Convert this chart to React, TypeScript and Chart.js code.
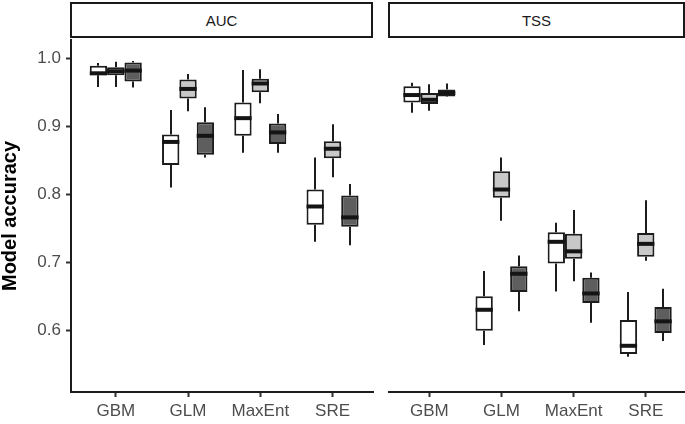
import React, { useEffect, useRef } from "react";
import { Chart, registerables } from "chart.js";

Chart.register(...registerables);

const categories = ["GBM", "GLM", "MaxEnt", "SRE"];
const yTicks = [0.6, 0.7, 0.8, 0.9, 1.0];
const panelTitles = ["AUC", "TSS"];
const seriesLabels = ["Group 1", "Group 2", "Group 3"];
const seriesColors = ["#ffffff", "#c8c8c8", "#5e5e5e"];

// Each entry: [min, q1, median, q3, max] for GBM, GLM, MaxEnt, SRE
const aucWhite = [
  [0.958, 0.975, 0.978, 0.989, 0.993],
  [0.81, 0.843, 0.877, 0.888, 0.924],
  [0.861, 0.886, 0.912, 0.935, 0.983],
  [0.73, 0.755, 0.782, 0.807, 0.854],
];
const aucGrey = [
  [0.958, 0.975, 0.981, 0.987, 0.995],
  [0.922, 0.941, 0.955, 0.969, 0.977],
  [0.934, 0.95, 0.963, 0.97, 0.984],
  [0.825, 0.853, 0.867, 0.878, 0.903],
];
const aucDark = [
  [0.957, 0.966, 0.982, 0.994, 0.996],
  [0.854, 0.858, 0.886, 0.906, 0.928],
  [0.861, 0.874, 0.891, 0.904, 0.918],
  [0.725, 0.752, 0.766, 0.798, 0.815],
];
const tssWhite = [
  [0.92, 0.935, 0.946, 0.959, 0.964],
  [0.578, 0.599, 0.63, 0.65, 0.687],
  [0.657, 0.698, 0.73, 0.744, 0.758],
  [0.561, 0.565, 0.577, 0.615, 0.656],
];
const tssGrey = [
  [0.923, 0.933, 0.939, 0.949, 0.962],
  [0.761, 0.795, 0.807, 0.834, 0.854],
  [0.672, 0.705, 0.716, 0.742, 0.777],
  [0.702, 0.708, 0.727, 0.743, 0.791],
];
const tssDark = [
  [0.943, 0.944, 0.949, 0.954, 0.963],
  [0.628, 0.656, 0.683, 0.694, 0.71],
  [0.611, 0.64, 0.654, 0.677, 0.685],
  [0.584, 0.596, 0.613, 0.634, 0.661],
];

const Y_MIN = 0.509;
const Y_MAX = 1.027;
const FONT = "'Liberation Sans', Arial, Helvetica, sans-serif";
const INK = "#1c1c1c";

const boxPlugin = {
  id: "boxWhiskers",
  beforeDatasetsDraw(chart: any) {
    const ctx = chart.ctx;
    const y = chart.scales.y;
    ctx.save();
    ctx.strokeStyle = INK;
    ctx.lineWidth = 2;
    chart.data.datasets.forEach((ds: any, d: number) => {
      const meta = chart.getDatasetMeta(d);
      meta.data.forEach((bar: any, i: number) => {
        const s = ds.stats[i];
        const x = Math.round(bar.x);
        ctx.beginPath();
        ctx.moveTo(x, y.getPixelForValue(s[0]));
        ctx.lineTo(x, y.getPixelForValue(s[1]));
        ctx.moveTo(x, y.getPixelForValue(s[3]));
        ctx.lineTo(x, y.getPixelForValue(s[4]));
        ctx.stroke();
      });
    });
    ctx.restore();
  },
  afterDatasetsDraw(chart: any) {
    const ctx = chart.ctx;
    const y = chart.scales.y;
    ctx.save();
    ctx.strokeStyle = "#141414";
    ctx.lineWidth = 4;
    chart.data.datasets.forEach((ds: any, d: number) => {
      const meta = chart.getDatasetMeta(d);
      meta.data.forEach((bar: any, i: number) => {
        const s = ds.stats[i];
        const py = y.getPixelForValue(s[2]);
        ctx.beginPath();
        ctx.moveTo(bar.x - bar.width / 2, py);
        ctx.lineTo(bar.x + bar.width / 2, py);
        ctx.stroke();
      });
    });
    ctx.restore();
  },
};

function makeDatasets(series: number[][][]) {
  return series.map((stats, k) => ({
    label: seriesLabels[k],
    data: stats.map((s, i) => ({ x: i, y: [s[1], s[3]] })),
    stats,
    backgroundColor: seriesColors[k],
    borderColor: INK,
    borderWidth: 2,
    borderSkipped: false,
    categoryPercentage: 0.72,
    barPercentage: 1,
  }));
}

function Panel(props: {
  series: number[][][];
  left: number;
  width: number;
  xMin: number;
  xMax: number;
  showY: boolean;
}) {
  const ref = useRef<HTMLCanvasElement>(null);
  useEffect(() => {
    if (!ref.current) return;
    const chart = new Chart(ref.current, {
      type: "bar",
      data: { datasets: makeDatasets(props.series) as any },
      plugins: [boxPlugin],
      options: {
        responsive: false,
        animation: false,
        events: [],
        layout: { padding: { top: 2, right: 1, left: 0, bottom: 0 } },
        plugins: { legend: { display: false }, tooltip: { enabled: false } },
        scales: {
          x: {
            type: "linear",
            min: props.xMin,
            max: props.xMax,
            offset: false,
            afterBuildTicks: (s: any) => {
              s.ticks = categories.map((_, i) => ({ value: i }));
            },
            afterFit: (s: any) => {
              s.height = 32;
              s.paddingLeft = 0;
              s.paddingRight = 0;
            },
            ticks: {
              callback: (v: any) => categories[v],
              font: { family: FONT, size: 17 },
              color: "#4d4d4d",
              padding: 4,
              maxRotation: 0,
              autoSkip: false,
            },
            grid: {
              display: true,
              offset: false,
              drawOnChartArea: false,
              drawTicks: true,
              tickLength: 5,
              tickWidth: 2,
              color: "#333333",
            },
            border: { display: true, color: INK, width: 2 },
          },
          y: {
            display: props.showY,
            min: Y_MIN,
            max: Y_MAX,
            beginAtZero: false,
            afterBuildTicks: (s: any) => {
              s.ticks = yTicks.map((v) => ({ value: v }));
            },
            afterFit: (s: any) => {
              s.width = props.showY ? 71 : 0;
              s.paddingTop = 0;
              s.paddingBottom = 0;
            },
            ticks: {
              callback: (v: any) => Number(v).toFixed(1),
              font: { family: FONT, size: 17 },
              color: "#4d4d4d",
              padding: 5,
            },
            grid: {
              display: true,
              drawOnChartArea: false,
              drawTicks: true,
              tickLength: 5,
              tickWidth: 2,
              color: "#333333",
            },
            border: { display: true, color: INK, width: 2 },
            title: {
              display: true,
              text: "Model accuracy",
              font: { family: FONT, size: 20, weight: "bold", lineHeight: 1 },
              color: "#000000",
              padding: { top: 0, bottom: 0 },
            },
          },
        },
      } as any,
    });
    return () => chart.destroy();
  }, []);
  return (
    <canvas
      ref={ref}
      width={props.width}
      height={386}
      style={{ position: "absolute", left: props.left, top: 38, width: props.width, height: 386 }}
    />
  );
}

function Strip(props: { text: string; left: number; width: number }) {
  return (
    <div
      style={{
        position: "absolute",
        left: props.left,
        top: 2,
        width: props.width,
        height: 36,
        boxSizing: "border-box",
        border: "2px solid #1a1a1a",
        background: "#ffffff",
        display: "flex",
        alignItems: "center",
        justifyContent: "center",
        fontFamily: FONT,
        fontSize: 15,
        color: "#1a1a1a",
      }}
    >
      {props.text}
    </div>
  );
}

export default function App() {
  return (
    <div
      style={{
        position: "absolute",
        left: 0,
        top: 0,
        width: 685,
        height: 424,
        overflow: "hidden",
        background: "#ffffff",
      }}
    >
      <Strip text={panelTitles[0]} left={70} width={303} />
      <Strip text={panelTitles[1]} left={388} width={297} />
      <Panel series={[aucWhite, aucGrey, aucDark]} left={0} width={374} xMin={-0.62} xMax={3.56} showY={true} />
      <Panel series={[tssWhite, tssGrey, tssDark]} left={388} width={297} xMin={-0.573} xMax={3.53} showY={false} />
    </div>
  );
}
